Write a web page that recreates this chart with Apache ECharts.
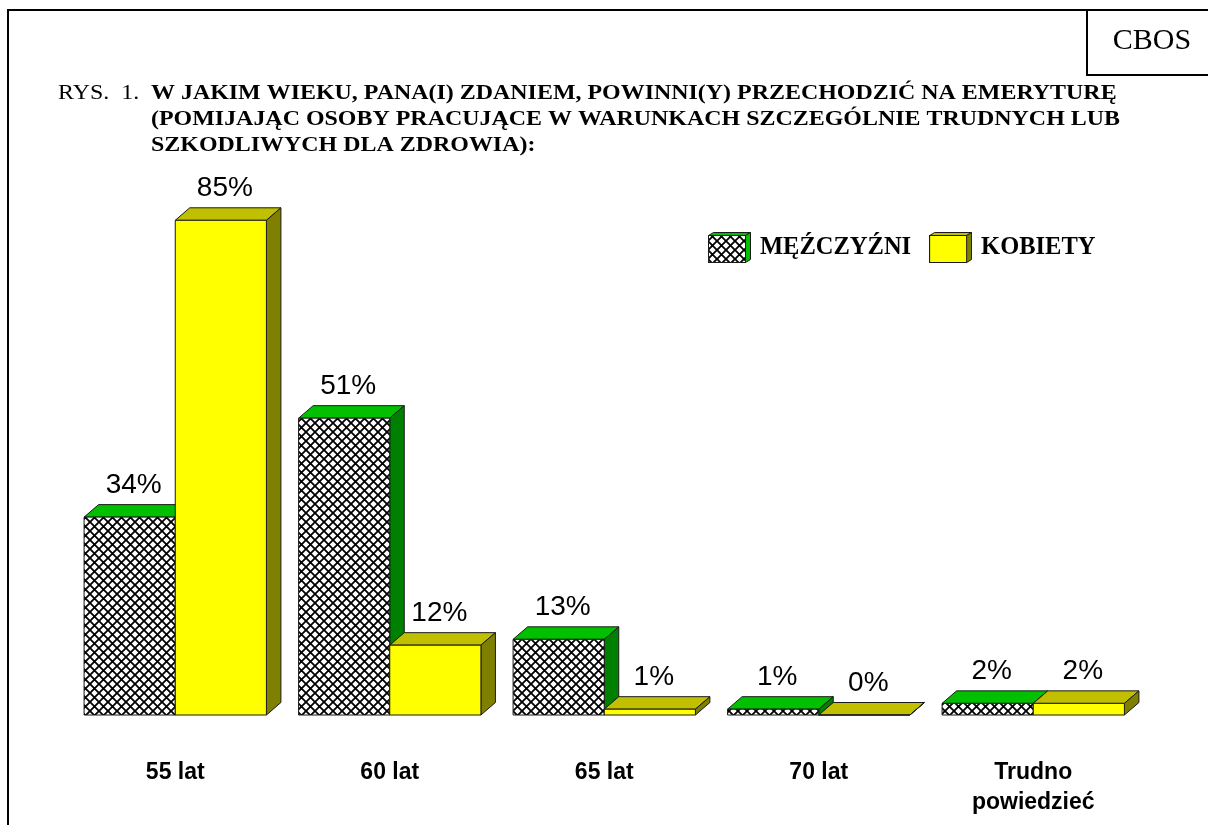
<!DOCTYPE html>
<html>
<head>
<meta charset="utf-8">
<script src="https://cdn.jsdelivr.net/npm/echarts@6/dist/echarts.min.js"></script>
<style>
  html, body { margin: 0; padding: 0; background: #fff; }
  #chart { width: 1208px; height: 825px; }
</style>
</head>
<body>
<div id="chart"></div>
<script>
const categories = ['55 lat', '60 lat', '65 lat', '70 lat', 'Trudno\npowiedzieć'];
const menValues = [34, 51, 13, 1, 2];
const womenValues = [85, 12, 1, 0, 2];
const seriesNames = ['MĘŹCZYŹNI', 'KOBIETY'];
const titleLines = [
  'W JAKIM WIEKU, PANA(I) ZDANIEM, POWINNI(Y) PRZECHODZIĆ NA EMERYTURĘ',
  '(POMIJAJĄC OSOBY PRACUJĄCE W WARUNKACH SZCZEGÓLNIE TRUDNYCH LUB',
  'SZKODLIWYCH DLA ZDROWIA):'
];

const DX = 14.5, DY = -12.5;
const OUTLINE = '#1a1a1a';

// crosshatch tile for the men's bars
const makeHatch = () => {
  const s = 9;
  const c = document.createElement('canvas');
  c.width = s; c.height = s;
  const ctx = c.getContext('2d');
  ctx.fillStyle = '#fff';
  ctx.fillRect(0, 0, s, s);
  ctx.strokeStyle = '#000';
  ctx.lineWidth = 1.8;
  ctx.beginPath();
  ctx.moveTo(-1, -1); ctx.lineTo(s + 1, s + 1);
  ctx.moveTo(s + 1, -1); ctx.lineTo(-1, s + 1);
  ctx.stroke();
  return c;
};
const hatch = makeHatch();

// small 3d box used as the legend icon
const makeIcon = (front, top, side, w) => {
  const h = 31, d = 5;
  const c = document.createElement('canvas');
  c.width = w; c.height = h;
  const ctx = c.getContext('2d');
  ctx.lineWidth = 1;
  ctx.strokeStyle = OUTLINE;
  ctx.fillStyle = top;
  ctx.beginPath();
  ctx.moveTo(0.5, 3.5); ctx.lineTo(d + 0.5, 0.5); ctx.lineTo(w - 0.5, 0.5); ctx.lineTo(w - d - 0.5, 3.5);
  ctx.closePath(); ctx.fill(); ctx.stroke();
  ctx.fillStyle = side;
  ctx.beginPath();
  ctx.moveTo(w - d - 0.5, 3.5); ctx.lineTo(w - 0.5, 0.5); ctx.lineTo(w - 0.5, h - 3.5); ctx.lineTo(w - d - 0.5, h - 0.5);
  ctx.closePath(); ctx.fill(); ctx.stroke();
  ctx.fillStyle = front === 'hatch' ? ctx.createPattern(hatch, 'repeat') : front;
  ctx.fillRect(0.5, 3.5, w - d - 1, h - 4);
  ctx.strokeRect(0.5, 3.5, w - d - 1, h - 4);
  return 'image://' + c.toDataURL();
};

const makeRender = (side, face, topColor, sideColor) => (params, api) => {
  const i = api.value(0);
  const v = api.value(1);
  const base = api.coord([i, 0]);
  const tip = api.coord([i, v]);
  const w = api.size([1, 0])[0] * 0.425;
  const x1 = base[0] + (side < 0 ? -w : 0);
  const x2 = x1 + w;
  const y0 = base[1];
  const y1 = tip[1];
  return {
    type: 'group',
    children: [
      {
        type: 'polygon',
        shape: { points: [[x1, y1], [x1 + DX, y1 + DY], [x2 + DX, y1 + DY], [x2, y1]] },
        style: { fill: topColor, stroke: OUTLINE, lineWidth: 1 }
      },
      {
        type: 'polygon',
        shape: { points: [[x2, y1], [x2 + DX, y1 + DY], [x2 + DX, y0 + DY], [x2, y0]] },
        style: { fill: sideColor, stroke: OUTLINE, lineWidth: 1 }
      },
      {
        type: 'rect',
        shape: { x: x1, y: y1, width: w, height: y0 - y1 },
        style: { fill: face, stroke: OUTLINE, lineWidth: 1 }
      },
      {
        type: 'text',
        x: (x1 + x2) / 2 + 4,
        y: y1 - 32,
        style: {
          text: v + '%',
          fontFamily: 'Liberation Sans',
          fontSize: 28,
          fill: '#000',
          align: 'center',
          verticalAlign: 'middle'
        }
      }
    ]
  };
};

const chart = echarts.init(document.getElementById('chart'));

// the report's title font is a wide Times; stretch Liberation Serif a little
const TITLE_STRETCH = 1.14;
const titleGraphics = [
  {
    type: 'text', x: 58, y: 83, scaleX: TITLE_STRETCH,
    style: { text: 'RYS.  1.', fontFamily: 'Liberation Serif', fontSize: 21, fill: '#000', verticalAlign: 'top' }
  },
  ...titleLines.map((t, k) => ({
    type: 'text', x: 151, y: 83 + k * 26, scaleX: TITLE_STRETCH,
    style: { text: t, fontFamily: 'Liberation Serif', fontWeight: 'bold', fontSize: 21, fill: '#000', verticalAlign: 'top' }
  }))
];

chart.setOption({
  backgroundColor: '#fff',
  animation: false,
  grid: { left: 68, right: 67.5, top: 133, bottom: 110 },
  legend: {
    left: 703,
    top: 227,
    itemWidth: 43,
    itemHeight: 31,
    itemGap: 18,
    selectedMode: false,
    textStyle: {
      fontFamily: 'Liberation Serif',
      fontWeight: 'bold',
      fontSize: 24.5,
      color: '#000',
      padding: [0, 0, 0, 4]
    },
    data: [
      { name: seriesNames[0], icon: makeIcon('hatch', '#00c000', '#00c000', 43) },
      { name: seriesNames[1], icon: makeIcon('#ffff00', '#c0c000', '#808000', 43) }
    ]
  },
  xAxis: {
    type: 'category',
    data: categories,
    axisLine: { show: false },
    axisTick: { show: false },
    splitLine: { show: false },
    axisLabel: {
      interval: 0,
      margin: 43,
      verticalAlign: 'top',
      fontFamily: 'Liberation Sans',
      fontWeight: 'bold',
      fontSize: 23,
      lineHeight: 30,
      color: '#000'
    }
  },
  yAxis: { type: 'value', min: 0, max: 100, show: false },
  graphic: [
    {
      type: 'rect', silent: true,
      shape: { x: 8, y: 10, width: 1230, height: 840 },
      style: { fill: 'none', stroke: '#000', lineWidth: 2 }
    },
    {
      type: 'polyline', silent: true,
      shape: { points: [[1087, 10], [1087, 75], [1210, 75]] },
      style: { fill: 'none', stroke: '#000', lineWidth: 2 }
    },
    {
      type: 'text', x: 1152, y: 41,
      style: { text: 'CBOS', fontFamily: 'Liberation Serif', fontSize: 30, fill: '#000', align: 'center', verticalAlign: 'middle' }
    },
    ...titleGraphics
  ],
  series: [
    {
      name: seriesNames[0],
      type: 'custom',
      clip: false,
      itemStyle: { color: '#00c000' },
      renderItem: makeRender(-1, { image: hatch, repeat: 'repeat' }, '#00c000', '#008000'),
      encode: { x: 0, y: 1 },
      data: menValues.map((v, i) => [i, v])
    },
    {
      name: seriesNames[1],
      type: 'custom',
      clip: false,
      itemStyle: { color: '#ffff00' },
      renderItem: makeRender(1, '#ffff00', '#c0c000', '#808000'),
      encode: { x: 0, y: 1 },
      data: womenValues.map((v, i) => [i, v])
    }
  ]
});

window.addEventListener('resize', () => chart.resize());
</script>
</body>
</html>
